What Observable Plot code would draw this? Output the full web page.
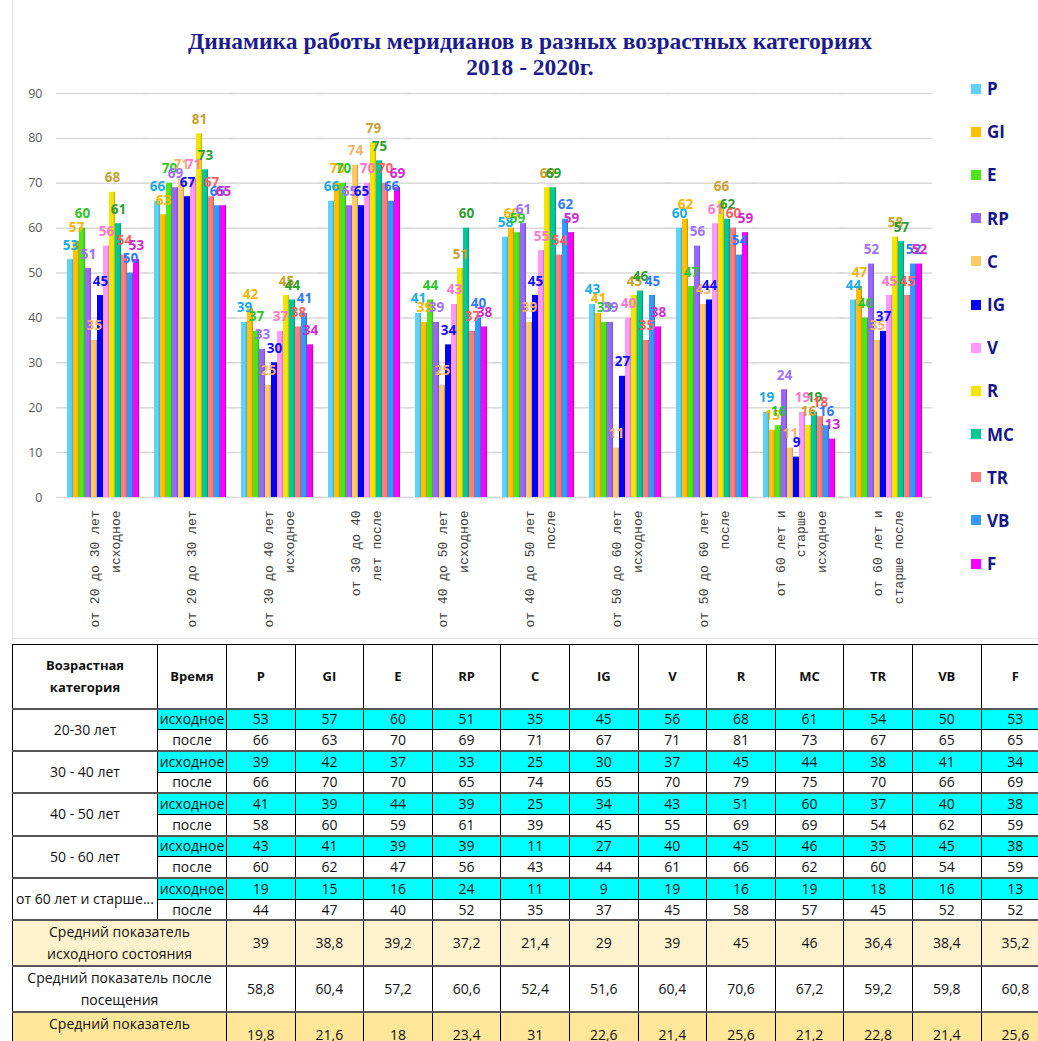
<!DOCTYPE html>
<html><head><meta charset="utf-8">
<script src="https://cdn.jsdelivr.net/npm/d3@7"></script>
<script src="https://cdn.jsdelivr.net/npm/@observablehq/plot@0.6"></script>
<style>
body{margin:0;background:#fff;width:1038px;height:1041px;overflow:hidden;position:relative;font-family:"Open Sans",sans-serif}
#title{position:absolute;top:28px;left:0;width:1060px;text-align:center;font:bold 23.5px "Liberation Serif",serif;color:#1c1c8c;line-height:26px}
#chart{position:absolute;top:80px;left:0}
#legend{position:absolute;left:971px;top:67px}
#legend .it{height:43.2px;display:flex;align-items:center;font:bold 17px "Open Sans",sans-serif;color:#15158a}
#legend .sw{width:10px;height:10px;margin-right:6px}
#frameL{position:absolute;left:12px;top:0;width:1px;height:640px;background:#e3e3e3}
#frameB{position:absolute;left:12px;top:638px;width:1030px;height:1px;background:#e3e3e3}
table{position:absolute;top:644px;left:12px;border-collapse:collapse;table-layout:fixed;width:1037px}
td{border:1px solid #000;text-align:center;padding:0;font-size:14px;color:#111;white-space:nowrap;overflow:hidden;line-height:18px}
td.h{font-weight:bold;font-size:13px;line-height:20px}
td.wrap{white-space:normal;line-height:22px}
tr.hd{height:64px}
tr.dr{height:21.2px}
tr.g td{border-top:2px solid #555}
td.cy{background:#00ffff}
tr.a1{height:44px} tr.a1 td{background:#fff2cc}
tr.a2{height:39px}
tr.a3{height:40px} tr.a3 td{background:#ffe699}
</style></head>
<body>
<div id="frameL"></div><div id="frameB"></div>
<div id="title">Динамика работы меридианов в разных возрастных категориях<br>2018 - 2020г.</div>
<div id="chart"></div>
<div id="legend"></div>
<table id="tbl"></table>
<script>
// Data
const categories = [
  "от 20 до 30 лет\nисходное",
  "от 20 до 30 лет",
  "от 30 до 40 лет\nисходное",
  "от 30 до 40\nлет после",
  "от 40 до 50 лет\nисходное",
  "от 40 до 50 лет\nпосле",
  "от 50 до 60 лет\nисходное",
  "от 50 до 60 лет\nпосле",
  "от 60 лет и\nстарше\nисходное",
  "от 60 лет и\nстарше после"
];
const series = ["P","GI","E","RP","C","IG","V","R","MC","TR","VB","F"];
const P  = [53,66,39,66,41,58,43,60,19,44];
const GI = [57,63,42,70,39,60,41,62,15,47];
const E  = [60,70,37,70,44,59,39,47,16,40];
const RP = [51,69,33,65,39,61,39,56,24,52];
const C  = [35,71,25,74,25,39,11,43,11,35];
const IG = [45,67,30,65,34,45,27,44,9,37];
const V  = [56,71,37,70,43,55,40,61,19,45];
const R  = [68,81,45,79,51,69,45,66,16,58];
const MC = [61,73,44,75,60,69,46,62,19,57];
const TR = [54,67,38,70,37,54,35,60,18,45];
const VB = [50,65,41,66,40,62,45,54,16,52];
const F  = [53,65,34,69,38,59,38,59,13,52];
const ageGroups = ["20-30 лет","30 - 40 лет","40 - 50 лет","50 - 60 лет","от 60 лет и старше..."];
const times = ["исходное","после"];
const avgBefore = [39,38.8,39.2,37.2,21.4,29,39,45,46,36.4,38.4,35.2];
const avgAfter  = [58.8,60.4,57.2,60.6,52.4,51.6,60.4,70.6,67.2,59.2,59.8,60.8];
const avgChange = [19.8,21.6,18,23.4,31,22.6,21.4,25.6,21.2,22.8,21.4,25.6];
const yTicks = [0,10,20,30,40,50,60,70,80,90];

// Styles
const barColors   = ["#5dd2fb","#ffc000","#4ee51a","#9966ff","#ffc966","#0000ff","#ff99ff","#f2e500","#00c896","#ff7c80","#3399ff","#ff00ff"];
const labelColors = ["#1aabe6","#f7b500","#2ec42e","#a070ff","#f5b266","#1010ff","#ff77cc","#c9a030","#2e9e2e","#ff5f5f","#2f7bff","#d02bd0"];

const valuesBySeries = {P,GI,E,RP,C,IG,V,R,MC,TR,VB,F};
const rows = [];
series.forEach((s,i)=>categories.forEach((c,j)=>rows.push({cat:c, s, v:valuesBySeries[s][j], bc:barColors[i], lc:labelColors[i]})));

const chart = Plot.plot({
  width: 960, height: 555,
  marginTop: 13, marginBottom: 138, marginLeft: 55, marginRight: 27,
  fx: {domain: categories, paddingInner: 0.09, paddingOuter: 0.08, axis: null, label: null},
  x: {domain: series, padding: 0, axis: null},
  y: {domain: [0, 90], axis: null},
  color: {type: "identity"},
  style: {background: "transparent"},
  marks: [
    Plot.ruleY(yTicks, {stroke: "#d9d9d9", strokeWidth: 1.5, insetLeft: -7, insetRight: -7}),
    Plot.axisY({ticks: yTicks, tickSize: 0, tickPadding: 21, fontSize: 12.5, fill: "#595959", fontFamily: "Open Sans", label: null}),
    Plot.barY(rows, {fx: "cat", x: "s", y: "v", fill: "bc"}),
    Plot.barY(rows, {fx: "cat", x: "s", y: "v", fill: "#000", fillOpacity: 0.18, insetLeft: 4.8}),
    Plot.text(rows, {fx: "cat", x: "s", y: "v", text: "v", fill: "lc", dy: -10, lineAnchor: "bottom", fontWeight: "bold", fontSize: 13.5, fontFamily: "Open Sans"}),
    Plot.text(categories, {fx: d => d, text: d => d, frameAnchor: "bottom", rotate: -90, textAnchor: "end", lineAnchor: "middle", dy: 13, fontFamily: "Liberation Mono", fontSize: 13, lineHeight: 1.55, fill: "#404040"})
  ]
});
document.getElementById("chart").appendChild(chart);

// Legend
const leg = d3.select("#legend");
series.forEach((s,i)=>{
  const it = leg.append("div").attr("class","it");
  it.append("div").attr("class","sw").style("background", barColors[i]);
  it.append("span").text(s);
});

// Table
const fmt = v => String(v).replace(".", ",");
const tbl = d3.select("#tbl");
const cg = tbl.append("colgroup");
cg.append("col").style("width","145px");
cg.append("col").style("width","69px");
series.forEach(()=>cg.append("col").style("width","68.6px"));
const hr = tbl.append("tr").attr("class","hd");
hr.append("td").attr("class","h wrap").html("Возрастная<br>категория");
hr.append("td").attr("class","h").text("Время");
series.forEach(s=>hr.append("td").attr("class","h").text(s));
ageGroups.forEach((g,gi)=>{
  times.forEach((t,ti)=>{
    const tr = tbl.append("tr").attr("class","dr" + (ti===0 ? " g" : ""));
    if (ti===0) tr.append("td").attr("rowspan",2).style("background","#fff").style("font-size","14px").text(g);
    tr.append("td").attr("class", ti===0 ? "cy" : "").text(t);
    series.forEach(s=>tr.append("td").attr("class", ti===0 ? "cy" : "").text(valuesBySeries[s][gi*2+ti]));
  });
});
const avgRows = [["Средний показатель<br>исходного состояния", avgBefore, "a1"],["Средний показатель после<br>посещения", avgAfter, "a2"],["Средний показатель<br>изменения", avgChange, "a3"]];
avgRows.forEach(([lab, arr, cls])=>{
  const tr = tbl.append("tr").attr("class", cls + " g");
  tr.append("td").attr("colspan",2).attr("class","wrap").html(lab);
  arr.forEach(v=>tr.append("td").text(fmt(v)));
});
</script>
</body></html>
